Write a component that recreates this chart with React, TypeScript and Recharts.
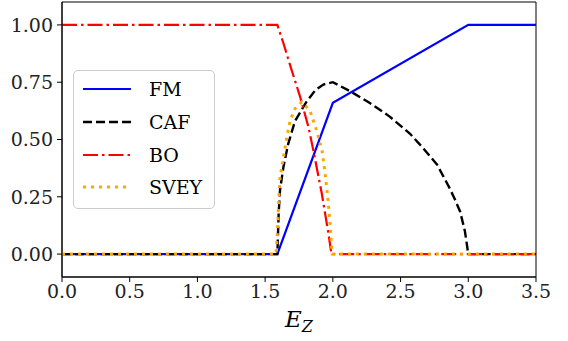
import React from "react";
import {
  LineChart,
  Line,
  XAxis,
  YAxis,
  Legend,
  ReferenceArea,
} from "recharts";

// phase curves vs E_Z, each with its own sample points
const fmData = [
  { e: 0, v: 0 },
  { e: 1.59, v: 0 },
  { e: 2.0, v: 0.66 },
  { e: 3.0, v: 1.0 },
  { e: 3.5, v: 1.0 },
];

const cafData = [
  { e: 0, v: 0 },
  { e: 1.59, v: 0 },
  { e: 1.6, v: 0.18 },
  { e: 1.61, v: 0.28 },
  { e: 1.635, v: 0.38 },
  { e: 1.67, v: 0.48 },
  { e: 1.72, v: 0.58 },
  { e: 1.8, v: 0.66 },
  { e: 1.87, v: 0.715 },
  { e: 1.93, v: 0.74 },
  { e: 2.0, v: 0.75 },
  { e: 2.13, v: 0.71 },
  { e: 2.27, v: 0.66 },
  { e: 2.42, v: 0.6 },
  { e: 2.57, v: 0.525 },
  { e: 2.67, v: 0.46 },
  { e: 2.77, v: 0.39 },
  { e: 2.86, v: 0.29 },
  { e: 2.9, v: 0.24 },
  { e: 2.94, v: 0.185 },
  { e: 2.975, v: 0.1 },
  { e: 3.0, v: 0 },
  { e: 3.5, v: 0 },
];

const boData = [
  { e: 0, v: 1.0 },
  { e: 1.59, v: 1.0 },
  { e: 1.635, v: 0.92 },
  { e: 1.697, v: 0.8 },
  { e: 1.759, v: 0.685 },
  { e: 1.82, v: 0.554 },
  { e: 1.857, v: 0.45 },
  { e: 1.919, v: 0.262 },
  { e: 1.968, v: 0.087 },
  { e: 1.99, v: 0 },
  { e: 3.5, v: 0 },
];

const sveyData = [
  { e: 0, v: 0 },
  { e: 1.58, v: 0 },
  { e: 1.59, v: 0.09 },
  { e: 1.6, v: 0.23 },
  { e: 1.61, v: 0.335 },
  { e: 1.635, v: 0.42 },
  { e: 1.66, v: 0.51 },
  { e: 1.685, v: 0.583 },
  { e: 1.72, v: 0.634 },
  { e: 1.77, v: 0.663 },
  { e: 1.83, v: 0.627 },
  { e: 1.88, v: 0.54 },
  { e: 1.92, v: 0.452 },
  { e: 1.94, v: 0.364 },
  { e: 1.965, v: 0.233 },
  { e: 1.98, v: 0.13 },
  { e: 1.995, v: 0 },
  { e: 3.5, v: 0 },
];

const xTicks = [0, 0.5, 1.0, 1.5, 2.0, 2.5, 3.0, 3.5];
const yTicks = [0, 0.25, 0.5, 0.75, 1.0];
const xDomain = [0, 3.5];
const yDomain = [-0.1, 1.1];

const FONT = "DejaVu Serif";

const series = [
  { name: "FM", data: fmData, color: "#0000ff", width: 2.2, dash: undefined as string | undefined },
  { name: "CAF", data: cafData, color: "#000000", width: 2.4, dash: "9 4" },
  { name: "BO", data: boData, color: "#ff0000", width: 2.2, dash: "15 4 2.5 4" },
  { name: "SVEY", data: sveyData, color: "#ffa500", width: 3, dash: "3 5" },
];

function LegendBox() {
  return (
    <div
      style={{
        width: 140,
        height: 135,
        border: "1px solid #cccccc",
        borderRadius: 5,
        background: "rgba(255,255,255,0.8)",
        paddingTop: 2,
        boxSizing: "content-box",
        fontFamily: FONT,
        fontSize: 19,
        color: "#000",
      }}
    >
      {series.map((s) => (
        <div
          key={s.name}
          style={{ height: 32.7, display: "flex", alignItems: "center" }}
        >
          <svg width={48} height={10} style={{ marginLeft: 9, marginRight: 18 }}>
            <line
              x1={0}
              y1={5}
              x2={48}
              y2={5}
              stroke={s.color}
              strokeWidth={s.width}
              strokeDasharray={s.dash}
            />
          </svg>
          <span>{s.name}</span>
        </div>
      ))}
    </div>
  );
}

function XLabel(props: any) {
  const { viewBox } = props;
  const cx = viewBox.x + viewBox.width / 2;
  return (
    <text
      x={cx - 14}
      y={327}
      fontFamily={FONT}
      fontSize={23}
      fontStyle="italic"
      fill="#000"
    >
      <tspan>E</tspan>
      <tspan fontSize={16} dy={5}>Z</tspan>
    </text>
  );
}

export default function App() {
  return (
    <div style={{ position: "fixed", left: 0, top: 0, width: 568, height: 341, background: "#fff" }}>
      <LineChart
        width={568}
        height={341}
        margin={{ top: 2, right: 32, left: 0, bottom: 0 }}
      >
        <XAxis
          dataKey="e"
          type="number"
          domain={xDomain}
          ticks={xTicks}
          tickFormatter={(v: number) => v.toFixed(1)}
          allowDataOverflow
          height={64}
          stroke="#000"
          tickSize={5}
          tickMargin={3}
          tick={{ fontFamily: FONT, fontSize: 19, fill: "#222" }}
          label={<XLabel />}
        />
        <YAxis
          type="number"
          domain={yDomain}
          ticks={yTicks}
          tickFormatter={(v: number) => v.toFixed(2)}
          allowDataOverflow
          width={62}
          stroke="#000"
          tickSize={5}
          tickMargin={4}
          tick={{ fontFamily: FONT, fontSize: 19, fill: "#222" }}
        />
        {/* plot frame */}
        <ReferenceArea
          x1={xDomain[0]}
          x2={xDomain[1]}
          y1={yDomain[0]}
          y2={yDomain[1]}
          fill="none"
          fillOpacity={0}
          stroke="#000"
          strokeWidth={1}
          ifOverflow="visible"
        />
        <Legend
          layout="vertical"
          align="center"
          verticalAlign="middle"
          content={() => <LegendBox />}
          wrapperStyle={{ left: 73, top: 70, width: 142, height: 139 }}
        />
        {series.map((s) => (
          <Line
            key={s.name}
            data={s.data}
            dataKey="v"
            name={s.name}
            type="linear"
            stroke={s.color}
            strokeWidth={s.width}
            strokeDasharray={s.dash}
            dot={false}
            activeDot={false}
            isAnimationActive={false}
          />
        ))}
      </LineChart>
    </div>
  );
}
